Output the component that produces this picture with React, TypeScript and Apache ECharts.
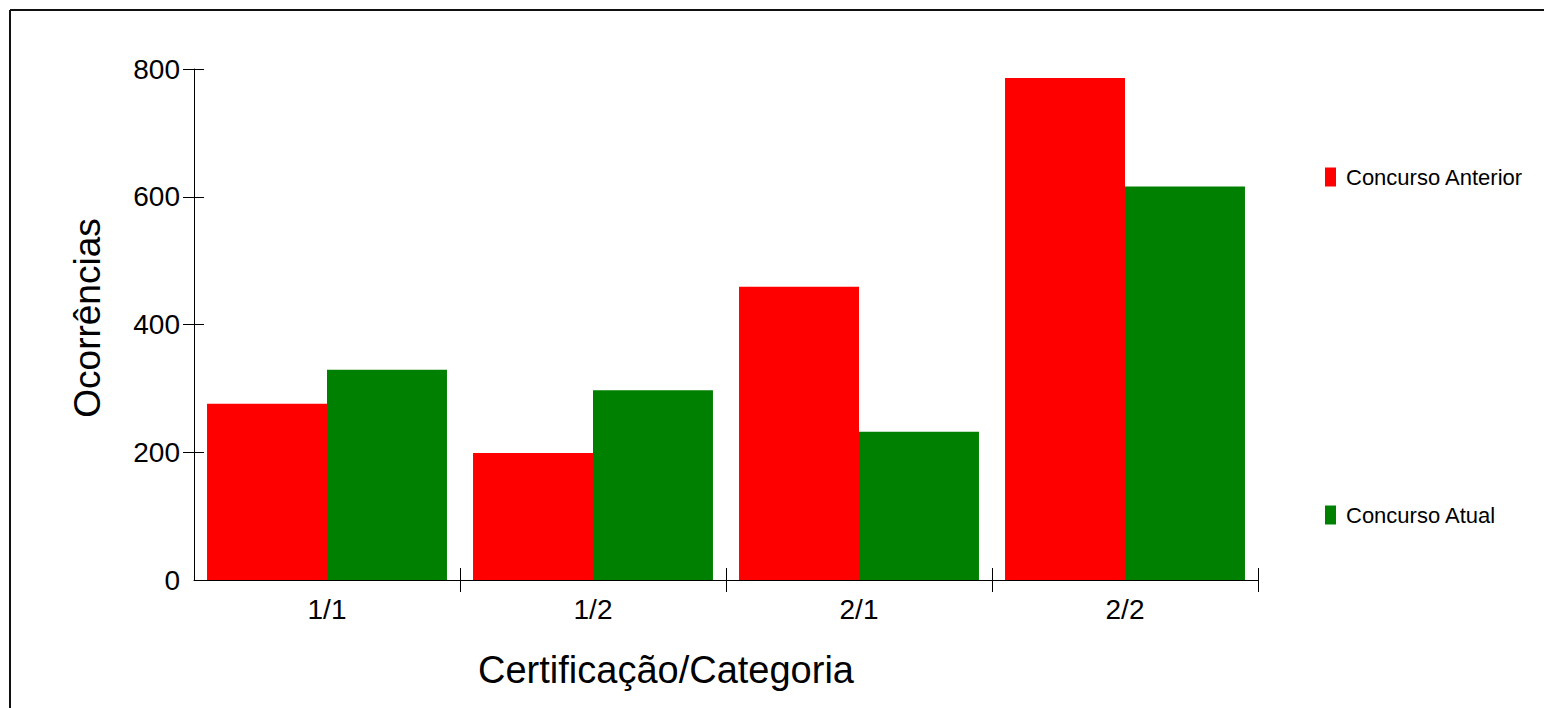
import React, { useEffect, useRef } from "react";
import * as echarts from "echarts";

const categories = ["1/1", "1/2", "2/1", "2/2"];
const anteriorValues = [276, 199, 459, 786];
const atualValues = [329, 297, 232, 616];
const yTickValues = [200, 400, 600, 800];
const xTickPositions = [1, 2, 3, 4];
const seriesNames = ["Concurso Anterior", "Concurso Atual"];
const xTitle = "Certificação/Categoria";
const yTitle = "Ocorrências";

const FONT = "'Liberation Sans', Arial, sans-serif";

export default function App() {
  const ref = useRef<HTMLDivElement>(null);
  useEffect(() => {
    if (!ref.current) return;
    const chart = echarts.init(ref.current, null, { renderer: "svg" });
    chart.setOption({
      animation: false,
      backgroundColor: "#ffffff",
      textStyle: { fontFamily: FONT, color: "#000" },
      grid: { left: 194, right: 286, top: 69, bottom: 128, containLabel: false },
      legend: {
        orient: "vertical",
        left: 1325,
        top: 166,
        padding: 0,
        itemWidth: 11,
        itemHeight: 19,
        itemGap: 316,
        icon: "rect",
        selectedMode: false,
        data: seriesNames,
        textStyle: { fontSize: 22, color: "#000", fontFamily: FONT, padding: [4, 0, 0, 5] },
      },
      xAxis: [
        {
          type: "category",
          data: categories,
          boundaryGap: true,
          axisLine: { show: true, lineStyle: { color: "#000", width: 1 } },
          axisTick: { show: false },
          axisLabel: { fontSize: 28, color: "#000", fontFamily: FONT, margin: 15 },
          splitLine: { show: false },
        },
        {
          type: "value",
          min: 0,
          max: 4,
          position: "bottom",
          offset: -12,
          axisLine: { show: false },
          axisLabel: { show: false },
          splitLine: { show: false },
          axisTick: {
            show: true,
            inside: false,
            length: 24,
            customValues: xTickPositions,
            lineStyle: { color: "#000", width: 1 },
          },
        },
      ],
      yAxis: [
        {
          type: "value",
          min: 0,
          max: 800,
          interval: 200,
          position: "left",
          axisLine: { show: true, lineStyle: { color: "#000", width: 1 } },
          axisTick: { show: false },
          axisLabel: { fontSize: 28, color: "#000", fontFamily: FONT, margin: 14 },
          splitLine: { show: false },
        },
        {
          type: "value",
          min: 0,
          max: 800,
          interval: 200,
          position: "left",
          offset: -10,
          axisLine: { show: false },
          axisLabel: { show: false },
          splitLine: { show: false },
          axisTick: {
            show: true,
            inside: false,
            length: 21,
            customValues: yTickValues,
            lineStyle: { color: "#000", width: 1 },
          },
        },
      ],
      series: [
        {
          name: seriesNames[0],
          type: "bar",
          data: anteriorValues,
          xAxisIndex: 0,
          yAxisIndex: 0,
          barGap: "0%",
          barCategoryGap: "9.8%",
          itemStyle: { color: "#ff0000" },
        },
        {
          name: seriesNames[1],
          type: "bar",
          data: atualValues,
          xAxisIndex: 0,
          yAxisIndex: 0,
          barGap: "0%",
          barCategoryGap: "9.8%",
          itemStyle: { color: "#008000" },
        },
      ],
      graphic: [
        {
          type: "line",
          shape: { x1: 10, y1: 10, x2: 1544, y2: 10 },
          style: { stroke: "#111", lineWidth: 2 },
          silent: true,
        },
        {
          type: "line",
          shape: { x1: 10, y1: 10, x2: 10, y2: 708 },
          style: { stroke: "#111", lineWidth: 2 },
          silent: true,
        },
        {
          type: "text",
          x: 666,
          y: 670,
          style: {
            text: xTitle,
            fontSize: 38,
            fontFamily: FONT,
            fill: "#000",
            textAlign: "center",
            textVerticalAlign: "middle",
          },
        },
        {
          type: "text",
          x: 87,
          y: 318,
          rotation: Math.PI / 2,
          style: {
            text: yTitle,
            fontSize: 37,
            fontFamily: FONT,
            fill: "#000",
            textAlign: "center",
            textVerticalAlign: "middle",
          },
        },
      ],
    });
    return () => chart.dispose();
  }, []);
  return (
    <div
      ref={ref}
      style={{ position: "fixed", left: 0, top: 0, width: 1544, height: 708 }}
    />
  );
}
